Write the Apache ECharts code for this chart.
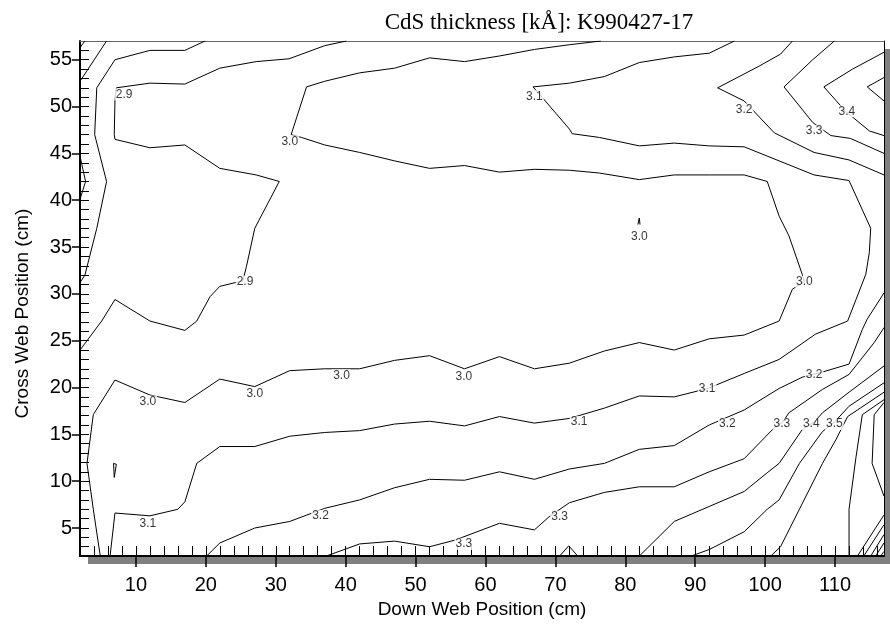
<!DOCTYPE html>
<html>
<head>
<meta charset="utf-8">
<script src="https://cdn.jsdelivr.net/npm/echarts@6/dist/echarts.min.js"></script>
<style>
  html, body { margin: 0; padding: 0; background: #fff; }
  #chart { width: 890px; height: 624px; }
</style>
</head>
<body>
<div id="chart"></div>
<script>
// tick values
const xMajor = [10, 20, 30, 40, 50, 60, 70, 80, 90, 100, 110];
const xMinor = [];
for (let v = 4; v <= 116; v += 2) xMinor.push(v);
const yMajor = [5, 10, 15, 20, 25, 30, 35, 40, 45, 50, 55];
const yMinor = [];
for (let v = 3; v <= 56; v++) yMinor.push(v);

// contour lines [down web, cross web]
const c27 = [[2, 56.3], [2.7, 57]];
const c28a = [[2, 52.7], [5.8, 57]];
const c28b = [[2, 44.7], [2.8, 42.0], [2, 40.1]];
const c29a = [[2, 31.2], [2.7, 32.0], [4.4, 37.0], [5.8, 42.0], [4.1, 47.0], [4.4, 52.0], [7, 55.0], [12, 56.0], [17, 56.0], [19.9, 57]];
const c29b = [[40.1, 57], [37, 56.5], [31.9, 55.1], [27.2, 54.8], [22, 54.1], [17, 52.4], [12, 52.5], [7.2, 52.0],
  [7, 50.6], [6.9, 47.0], [7, 46.5], [12, 45.6], [17, 45.9], [22, 43.4], [27.2, 42.7], [30.5, 42.0], [27, 37.0],
  [25.8, 32.9], [25.3, 31.4], [22, 30.8], [20.6, 29.7], [18.7, 27.1], [17, 26.1], [12, 27.1], [7, 29.4], [5.1, 27.1], [2, 24.0]];
const c30 = [[76.5, 57], [72, 56.6], [67, 56.1], [62, 55.4], [57, 54.8], [52, 55.2], [47, 54.1], [42, 53.6], [37, 52.7],
  [34.4, 52.1], [32.2, 47.0], [33.7, 46.7], [37, 45.9], [42, 45.1], [47, 44.2], [52, 43.4], [57, 43.7], [62, 43.0],
  [67, 43.3], [72, 43.2], [76.3, 42.9], [82, 42.2], [87, 42.7], [92, 42.7], [97, 42.7], [100.3, 42.0], [102, 38.3],
  [103.4, 36.2], [105.3, 32.1], [105.6, 31.3], [103.9, 30.5], [102, 27.1], [97, 25.6], [92, 25.2], [87, 24.0],
  [82, 24.8], [77, 23.9], [72, 22.6], [67, 22.0], [62, 23.3], [57, 22.0], [52, 23.4], [47, 22.9], [42, 22.0],
  [37, 22.0], [32, 21.8], [27, 20.1], [22, 20.9], [17, 18.4], [12, 19.2], [7, 20.8], [3.9, 17.1], [3.0, 11.9],
  [3.9, 7.0], [4.9, 2.0]];
const c30b = [[81.8, 37.4], [82, 38.1], [82.1, 37.4]];
const c31 = [[95.6, 57], [92, 55.7], [87, 55.3], [82, 54.7], [77, 53.2], [72, 52.5], [66.8, 52.1], [68.2, 50.9],
  [72, 47.6], [72.4, 47.1], [76.3, 46.7], [82, 45.8], [87, 46.1], [92, 45.8], [97, 45.7], [107, 42.7], [112, 42.1],
  [115.1, 37.0], [114.9, 34.4], [114.4, 32.1], [113, 29.4], [111.8, 27.1], [107.2, 25.7], [102, 23.0], [97, 21.5],
  [91.8, 19.9], [87, 19.0], [82, 19.1], [77, 17.8], [72, 16.7], [67, 16.2], [62, 16.9], [57, 15.9], [52, 16.4],
  [47, 16.1], [42, 15.4], [37, 15.2], [32, 14.8], [27, 13.7], [22, 13.7], [18.7, 11.9], [17, 7.8], [16, 7.0],
  [12, 6.3], [7, 6.6], [6.3, 2.0]];
const c31b = [[6.8, 11.9], [7.2, 11.8], [6.9, 10.4], [6.8, 11.9]];
const c32a = [[20.1, 2.0], [22, 3.4], [27, 5.0], [32, 5.7], [37, 7.1], [42, 8.0], [47, 9.3], [52, 10.2], [57, 10.1],
  [62, 11.0], [67, 10.2], [72, 11.3], [77, 11.9], [82, 13.4], [87, 13.8], [92, 16.0], [97, 17.6], [102, 19.9],
  [105.3, 21.1], [108.4, 21.7], [112, 22.5], [113.9, 26.2], [114.6, 27.3], [117, 30.1]];
const c32b = [[103.9, 57], [102.2, 55.6], [99.1, 54.3], [93.2, 52.0], [97, 50.6], [101.3, 47.2], [107, 45.1],
  [112, 44.3], [117, 42.7]];
const c33a = [[37.2, 2.0], [42, 3.3], [47, 3.6], [52, 3.0], [55.6, 3.7], [62, 5.5], [67, 4.8], [69.1, 6.2], [72, 7.7],
  [77, 8.8], [82, 9.4], [87, 9.4], [92, 11.0], [97, 12.4], [101.3, 15.7], [102.5, 16.3], [103.4, 17.3], [108.2, 19.8],
  [112, 21.4], [115.6, 24.8], [117, 26.4]];
const c33b = [[109.9, 57], [106.8, 55.0], [102.7, 52.1], [106.8, 48.3], [109.4, 46.9], [112.2, 46.6], [117, 45.0]];
const c34a = [[82, 2.0], [87, 5.7], [92, 7.3], [97, 8.9], [100.3, 10.9], [102, 11.9], [105.3, 15.5], [107, 16.3],
  [108.2, 17.3], [112, 19.5], [117, 22.3]];
const c34b = [[117, 55.8], [112.5, 54.0], [108.4, 52.1], [111.5, 49.5], [114.9, 47.4], [117, 46.9]];
const c34c = [[70.6, 2], [71.9, 3.1], [73.2, 2]];
const c35a = [[89.4, 2], [92, 2.7], [97, 4.6], [100.3, 7.0], [102, 8.0], [104.9, 11.9], [108.2, 15.3], [109.9, 16.3],
  [112, 18.0], [117, 20.5]];
const c35b = [[117, 53.1], [114.6, 52.1], [117, 50.6]];
const c36 = [[100.8, 2], [102.2, 3.0], [104.9, 7.0], [108.2, 11.9], [110.1, 14.4], [111.8, 16.9], [117, 19.5]];
const c37 = [[112, 2], [112, 7], [113, 12.6], [113.9, 17.1], [117, 18.7]];
const c38 = [[117, 18.4], [115.6, 17.1], [115.3, 11.9], [117, 8.4]];
const c39 = [[113.2, 2], [117, 6.4]];
const c40 = [[114.1, 2], [117, 5.35]];
const c41 = [[115.1, 2], [117, 4.3]];
const c42 = [[115.8, 2], [117, 3.4]];
const c43 = [[116.5, 2], [117, 2.5]];

const contours = [c27, c28a, c28b, c29a, c29b, c30, c30b, c31, c31b, c32a, c32b, c33a, c33b,
  c34a, c34b, c34c, c35a, c35b, c36, c37, c38, c39, c40, c41, c42, c43];

// contour labels [x, y, text]
const levelLabels = [
  [8.3, 51.3, '2.9'], [25.6, 31.3, '2.9'], [32, 46.3, '3.0'], [67, 51.1, '3.1'], [97, 49.7, '3.2'],
  [107, 47.4, '3.3'], [111.7, 49.5, '3.4'], [82, 36.1, '3.0'], [105.6, 31.3, '3.0'], [11.7, 18.5, '3.0'],
  [27, 19.3, '3.0'], [39.4, 21.3, '3.0'], [56.9, 21.2, '3.0'], [73.4, 16.3, '3.1'], [91.7, 19.9, '3.1'],
  [107, 21.4, '3.2'], [11.7, 5.5, '3.1'], [36.4, 6.3, '3.2'], [94.6, 16.1, '3.2'], [102.4, 16.1, '3.3'],
  [106.6, 16.1, '3.4'], [109.9, 16.1, '3.5'], [70.6, 6.2, '3.3'], [56.9, 3.3, '3.3']
];

const chart = echarts.init(document.getElementById('chart'));
const font = 'Liberation Sans, Arial, sans-serif';

const series = contours.map(function (c) {
  return {
    type: 'line',
    data: c,
    symbol: 'none',
    silent: true,
    lineStyle: { color: '#000', width: 1 },
    z: 2
  };
});
series.push({
  type: 'scatter',
  data: levelLabels,
  symbolSize: 1,
  itemStyle: { color: 'rgba(0,0,0,0)' },
  silent: true,
  z: 5,
  label: {
    show: true,
    position: 'inside',
    formatter: function (p) { return p.value[2]; },
    fontSize: 12,
    fontFamily: font,
    color: '#000',
    backgroundColor: '#fff',
    padding: [0, 1]
  }
});

chart.setOption({
  animation: false,
  backgroundColor: '#fff',
  title: {
    text: 'CdS thickness [kÅ]: K990427-17',
    left: 534,
    top: 6,
    textAlign: 'center',
    textStyle: { fontFamily: 'Liberation Serif, Times New Roman, serif', fontSize: 23, fontWeight: 'normal', color: '#000' }
  },
  grid: {
    left: 80, right: 6, top: 41, bottom: 67,
    show: true,
    backgroundColor: '#fff',
    borderWidth: 0,
    shadowColor: '#808080',
    shadowBlur: 0,
    shadowOffsetX: 8,
    shadowOffsetY: 8
  },
  xAxis: [
    {
      type: 'value', min: 2, max: 117, position: 'bottom',
      name: 'Down Web Position (cm)', nameLocation: 'middle', nameGap: 41,
      nameTextStyle: { fontFamily: font, fontSize: 19, color: '#000' },
      axisLine: { show: true, lineStyle: { color: '#000', width: 2 } },
      axisTick: { show: true, inside: false, length: 11, customValues: xMajor, lineStyle: { color: '#000', width: 1.5 } },
      axisLabel: { customValues: xMajor, fontFamily: font, fontSize: 20, color: '#000', margin: 19 },
      splitLine: { show: false }
    },
    {
      type: 'value', min: 2, max: 117, position: 'bottom',
      axisLine: { show: false },
      axisTick: { show: true, inside: true, length: 10, customValues: xMinor, lineStyle: { color: '#000', width: 1 } },
      axisLabel: { show: false, customValues: xMinor },
      splitLine: { show: false }
    },
    {
      type: 'value', min: 2, max: 117, position: 'top',
      axisLine: { show: true, lineStyle: { color: '#666', width: 1 } },
      axisTick: { show: false },
      axisLabel: { show: false },
      splitLine: { show: false }
    }
  ],
  yAxis: [
    {
      type: 'value', min: 2, max: 57, position: 'left',
      name: 'Cross Web Position (cm)', nameLocation: 'middle', nameGap: 48,
      nameTextStyle: { fontFamily: font, fontSize: 19, color: '#000', padding: [0, 30, 0, 0] },
      axisLine: { show: true, lineStyle: { color: '#000', width: 2 } },
      axisTick: { show: true, inside: false, length: 8, customValues: yMajor, lineStyle: { color: '#000', width: 1.5 } },
      axisLabel: { customValues: yMajor, fontFamily: font, fontSize: 20, color: '#000', margin: 8 },
      splitLine: { show: false }
    },
    {
      type: 'value', min: 2, max: 57, position: 'left',
      axisLine: { show: false },
      axisTick: { show: true, inside: true, length: 9, customValues: yMinor, lineStyle: { color: '#000', width: 1 } },
      axisLabel: { show: false, customValues: yMinor },
      splitLine: { show: false }
    },
    {
      type: 'value', min: 2, max: 57, position: 'right',
      axisLine: { show: true, lineStyle: { color: '#000', width: 1 } },
      axisTick: { show: false },
      axisLabel: { show: false },
      splitLine: { show: false }
    }
  ],
  series: series
});
</script>
</body>
</html>
